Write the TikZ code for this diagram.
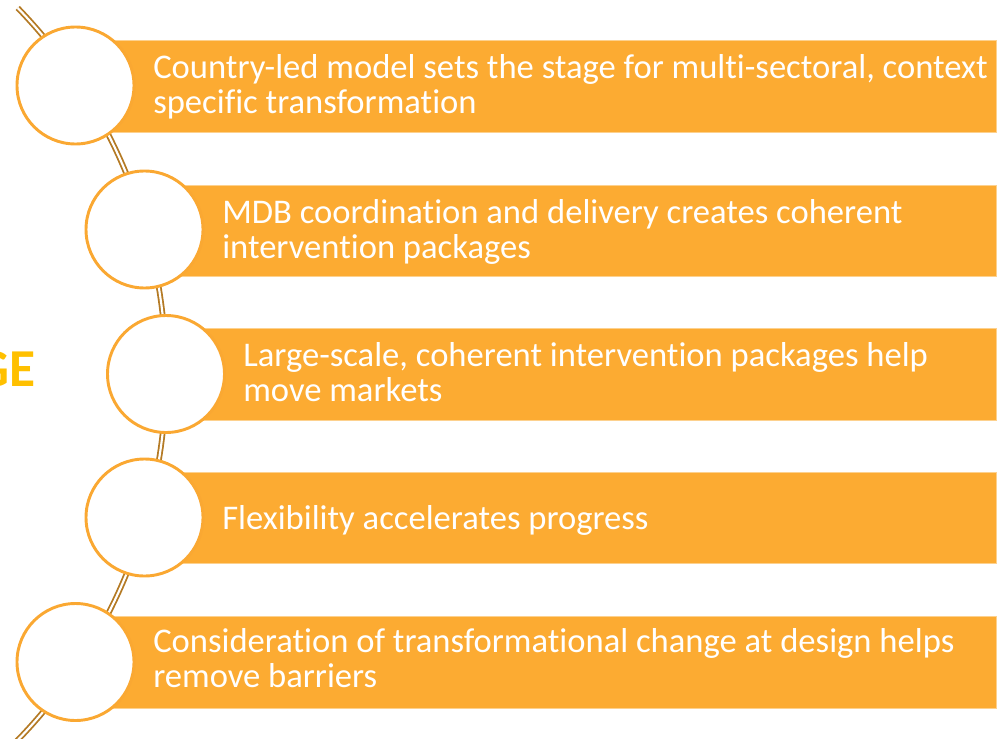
\documentclass[tikz,border=0pt]{standalone}
\usepackage{fontspec}
\setmainfont{Carlito}[Ligatures=NoCommon]
\definecolor{barfill}{RGB}{252,171,50}
\definecolor{ringline}{RGB}{250,168,50}
\definecolor{spine}{RGB}{180,122,36}
\definecolor{titlegold}{RGB}{255,192,0}
\begin{document}
\begin{tikzpicture}[x=0.75pt,y=-0.75pt,
  stepbar/.style={rectangle, fill=barfill, draw=barfill!55!white, line width=0.6pt,
    minimum height=68.6pt, inner sep=0pt, anchor=west},
  ring/.style={circle, fill=white, draw=ringline, line width=2.2pt,
    minimum size=87.75pt, inner sep=0pt},
  steptext/.style={anchor=base west, inner sep=0pt, text=white,
    font=\fontsize{25.95}{26.25}\selectfont},
  spineline/.style={draw=spine, line width=1.35pt, double=white, double distance=1.6pt}
]
\useasboundingbox (0,0) rectangle (1005,738);
\clip (0,0) rectangle (1005,738);

% curved spine behind the rings
\coordinate (hub) at (-360,374);
\draw[spineline] (hub) ++(-44.1:526) arc[start angle=-44.1, end angle=52, radius=526];

% partially visible heading
\node[anchor=base east, inner sep=0pt, text=titlegold,
      font=\fontsize{40}{48}\selectfont\bfseries] (heading) at (36,386) {GE};

% bars
\node[stepbar, minimum width=690.4pt] (b1) at (75.5,86.5) {};
\node[stepbar, minimum width=638.6pt] (b2) at (144.5,231) {};
\node[stepbar, minimum width=622.5pt] (b3) at (166,374.5) {};
\node[stepbar, minimum width=638.6pt] (b4) at (144.5,518) {};
\node[stepbar, minimum width=690.4pt] (b5) at (75.5,662.5) {};

% rings
\node[ring] (c1) at (75.5,85.5) {};
\node[ring] (c2) at (144.5,229.5) {};
\node[ring] (c3) at (166,374) {};
\node[ring] (c4) at (144.5,517.5) {};
\node[ring] (c5) at (75.5,662) {};

% texts
\node[steptext] (t1) at (153,78.5)
  {\begin{tabular}[t]{@{}l@{}}Country-led model sets the stage for multi-sectoral, context\\specific transformation\end{tabular}};
\node[steptext] (t2) at (222,223)
  {\begin{tabular}[t]{@{}l@{}}MDB coordination and delivery creates coherent\\intervention packages\end{tabular}};
\node[steptext] (t3) at (243,366)
  {\begin{tabular}[t]{@{}l@{}}Large-scale, coherent intervention packages help\\move markets\end{tabular}};
\node[steptext] (t4) at (222,529.3) {Flexibility accelerates progress};
\node[steptext] (t5) at (153,652.7)
  {\begin{tabular}[t]{@{}l@{}}Consideration of transformational change at design helps\\remove barriers\end{tabular}};
\end{tikzpicture}
\end{document}
